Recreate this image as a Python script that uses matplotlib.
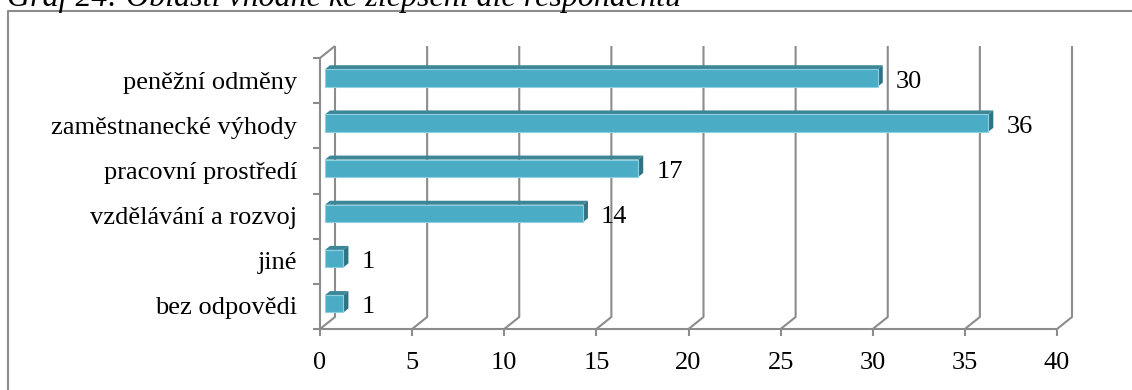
import matplotlib
matplotlib.use("Agg")
import matplotlib.pyplot as plt
from matplotlib.patches import Polygon
from matplotlib.lines import Line2D

# categories from bottom to top
categories = ["bez odpovědi", "jiné", "vzdělávání a rozvoj",
              "pracovní prostředí", "zaměstnanecké výhody", "peněžní odměny"]
counts = [1, 1, 14, 17, 36, 30]
x_ticks = [0, 5, 10, 15, 20, 25, 30, 35, 40]
title = "Graf 24: Oblasti vhodné ke zlepšení dle respondentů"

W, H = 1132, 390
FONT = "Liberation Serif"
GRID = "#8c8c8c"
FRONT, TOP, SIDE = "#4bacc6", "#3b8798", "#2f7485"

fig = plt.figure(figsize=(W / 100, H / 100), dpi=100)
fig.patch.set_facecolor("white")

# front plane of the 3-D plot area
ax = fig.add_axes([320 / W, (H - 329) / H, 737 / W, 271 / H])
ax.set_xlim(0, 40)
ax.set_ylim(0, len(categories))
ax.axis("off")

# depth of the 3-D box in data units
DX = 15 / 737 * 40
DY = 12 / 271 * len(categories)
px_x = 40 / 737
px_y = len(categories) / 271

ln = dict(color=GRID, lw=1.5, clip_on=False, zorder=1, solid_capstyle="butt")

# walls and gridlines
ymax = len(categories)
for v in x_ticks:
    ax.plot([v, v + DX, v + DX], [0, DY, ymax + DY], **ln)
    ax.plot([v, v], [0, -7 * px_y], **ln)
ax.plot([0, 40], [0, 0], **ln)
ax.plot([0, 0, DX], [0, ymax, ymax + DY], **ln)
for i in range(ymax + 1):
    ax.plot([-7 * px_x, 0], [i, i], **ln)

# 3-D bars
h = 17.4 * px_y
d0, d1 = 1 / 3, 2 / 3
for i, v in enumerate(counts):
    c = i + 0.5 - 0.03
    bot, top = c - h / 2, c + h / 2
    x0 = 0
    ox0, oy0 = d0 * DX, d0 * DY
    ox1, oy1 = d1 * DX, d1 * DY
    ax.add_patch(Polygon([(x0 + ox0, top + oy0), (v + ox0, top + oy0),
                          (v + ox1, top + oy1), (x0 + ox1, top + oy1)],
                         closed=True, fc=TOP, ec="none", zorder=3, clip_on=False))
    ax.add_patch(Polygon([(v + ox0, bot + oy0), (v + ox1, bot + oy1),
                          (v + ox1, top + oy1), (v + ox0, top + oy0)],
                         closed=True, fc=SIDE, ec="none", zorder=3, clip_on=False))
    ax.add_patch(Polygon([(x0 + ox0, bot + oy0), (v + ox0, bot + oy0),
                          (v + ox0, top + oy0), (x0 + ox0, top + oy0)],
                         closed=True, fc=FRONT, ec="#8fd0e0", lw=0.8,
                         zorder=4, clip_on=False))
    ax.text(v + ox1 + 13 * px_x, i + 0.5 - 7 * px_y, str(v), fontsize=19,
            family=FONT, ha="left", va="baseline", clip_on=False)
    ax.text(-23 * px_x, i + 0.5 - 8 * px_y, categories[i], fontsize=19,
            family=FONT, ha="right", va="baseline", clip_on=False)

for v in x_ticks:
    ax.text(v, -40 * px_y, str(v), fontsize=19, family=FONT,
            ha="center", va="baseline", clip_on=False)

# outer chart frame (top and left edges)
fig.add_artist(Line2D([8 / W, 8 / W, 1.0], [0.0, 1 - 11 / H, 1 - 11 / H],
                      transform=fig.transFigure, color=GRID, lw=1.5))

# caption sits above the frame and runs off the top edge
fig.text(7 / W, 1 - 6 / H, title, fontsize=23, family=FONT, style="italic",
         ha="left", va="baseline")

fig.savefig("out.png", dpi=100, facecolor="white")
